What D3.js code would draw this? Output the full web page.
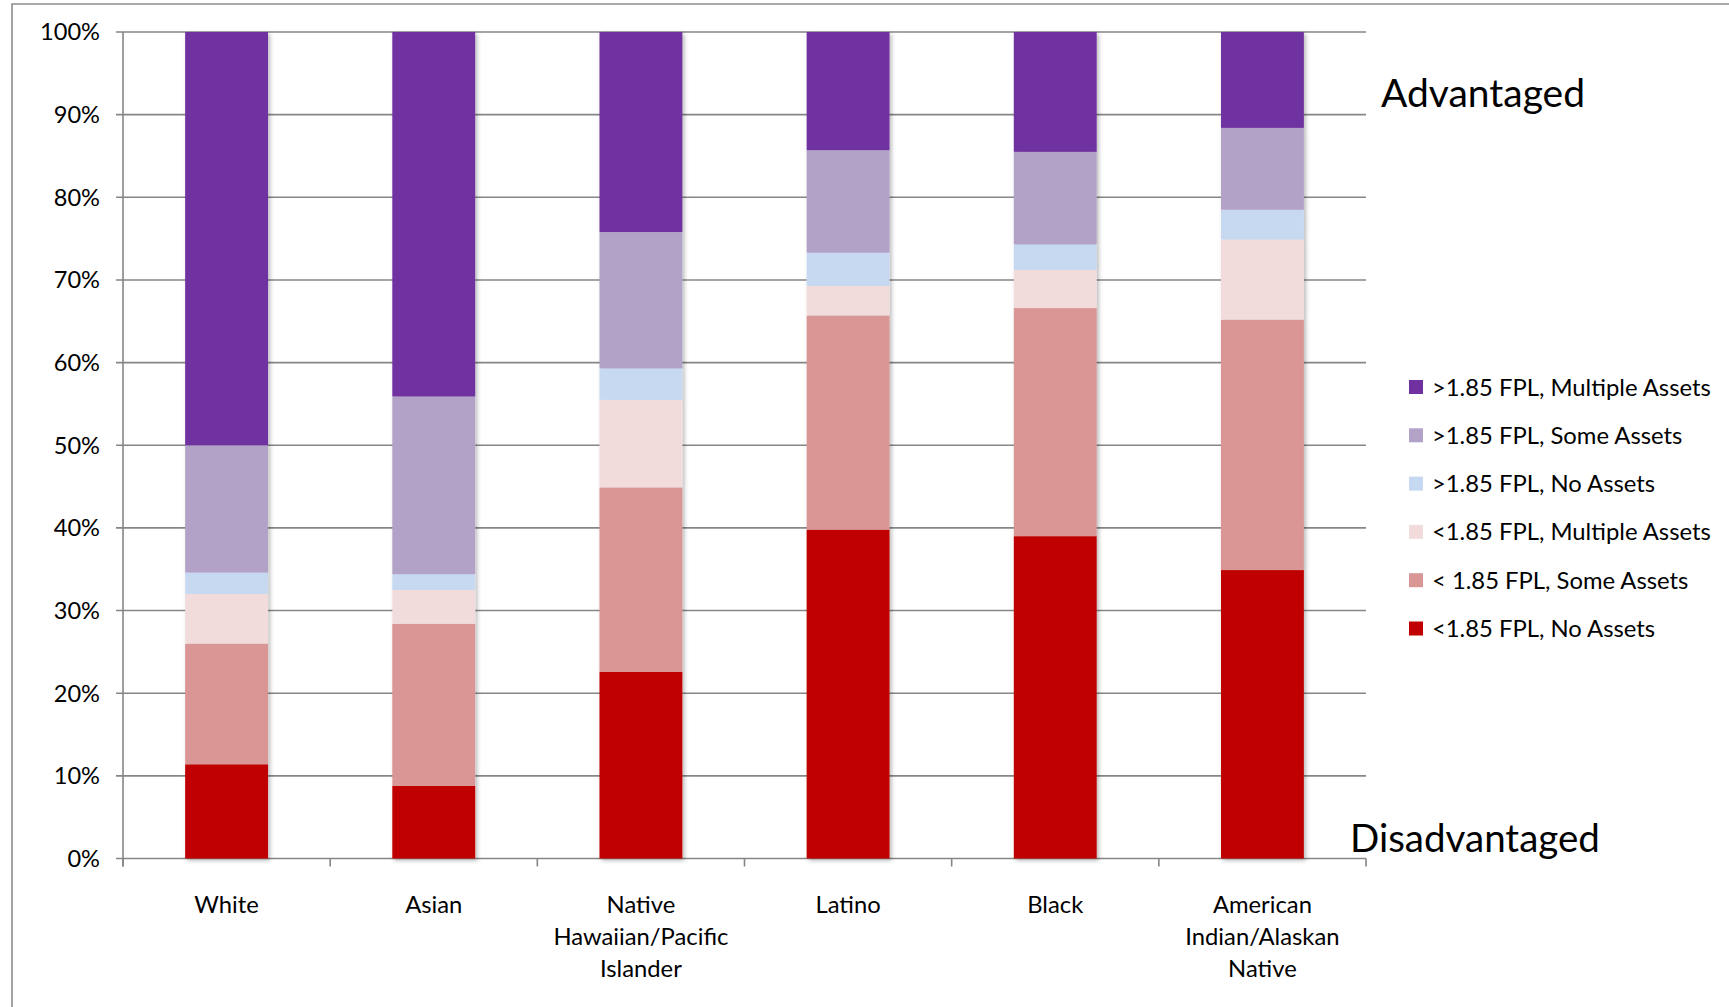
<!DOCTYPE html>
<html><head><meta charset="utf-8">
<script src="https://cdn.jsdelivr.net/npm/d3@7"></script>
<style>
body{margin:0;background:#fff;}
svg{display:block;}
text{font-family:Lato,"Open Sans",sans-serif;fill:#000;}
</style>
</head><body>
<svg id="c" width="1729" height="1007"></svg>
<script>
// ---- data ----
const categories = ["White","Asian","Native Hawaiian/Pacific Islander","Latino","Black","American Indian/Alaskan Native"];
const categoryLines = [["White"],["Asian"],["Native","Hawaiian/Pacific","Islander"],["Latino"],["Black"],["American","Indian/Alaskan","Native"]];
// stacked bottom -> top (percent)
const lowNoAssets      = [11.4,  8.8, 22.6, 39.8, 39.0, 34.9];
const lowSomeAssets    = [14.6, 19.6, 22.3, 25.9, 27.6, 30.3];
const lowMultAssets    = [ 6.0,  4.1, 10.6,  3.6,  4.6,  9.7];
const highNoAssets     = [ 2.6,  1.9,  3.8,  4.0,  3.1,  3.6];
const highSomeAssets   = [15.4, 21.5, 16.5, 12.4, 11.2,  9.9];
const highMultAssets   = [50.0, 44.1, 24.2, 14.3, 14.5, 11.6];
const seriesNames = ["<1.85 FPL, No Assets","< 1.85 FPL, Some Assets","<1.85 FPL, Multiple Assets",">1.85 FPL, No Assets",">1.85 FPL, Some Assets",">1.85 FPL, Multiple Assets"];
const seriesColors = ["#C00000","#D99694","#F2DCDB","#C6D9F1","#B3A2C7","#7030A0"];
const yTicks = [0,10,20,30,40,50,60,70,80,90,100];

const seriesValues = [lowNoAssets,lowSomeAssets,lowMultAssets,highNoAssets,highSomeAssets,highMultAssets];
const table = categories.map((c,i)=>{const r={cat:c}; seriesNames.forEach((s,k)=>r[s]=seriesValues[k][i]); return r;});

// ---- layout ----
const svg = d3.select("#c");
const X0=123, X1=1366, YT=32, YB=858.5;
const gridCol="#868686";

const x = d3.scaleBand().domain(categories).range([X0,X1]).paddingInner(0.6).paddingOuter(0.3);
const xOuter = d3.scaleBand().domain(categories).range([X0,X1]).padding(0);
const y = d3.scaleLinear().domain([0,100]).range([YB,YT]);

function fit(str,target){const t=svg.append("text").style("font-size","100px").text(str);const w=t.node().getComputedTextLength();t.remove();return 100*target/w;}

// frame
svg.append("path").attr("d","M12,1007 V4 H1729").attr("fill","none").attr("stroke","#8c8c8c").attr("stroke-width",1.6);

// defs shadow
const defs=svg.append("defs");
const f=defs.append("filter").attr("id","sh").attr("x","-20%").attr("y","-5%").attr("width","150%").attr("height","115%");
f.append("feDropShadow").attr("dx",2).attr("dy",2).attr("stdDeviation",2).attr("flood-color","#000").attr("flood-opacity",0.28);

// gridlines
svg.append("g").selectAll("line").data(yTicks).join("line")
  .attr("x1",116).attr("x2",X1).attr("y1",d=>y(d)).attr("y2",d=>y(d))
  .attr("stroke",gridCol).attr("stroke-width",1.6);

// y axis line
svg.append("line").attr("x1",X0).attr("x2",X0).attr("y1",YT).attr("y2",YB+8).attr("stroke",gridCol).attr("stroke-width",1.6);
// x ticks at band boundaries
const bounds = categories.map(c=>xOuter(c)).concat([X1]);
svg.append("g").selectAll("line").data(bounds).join("line")
  .attr("x1",d=>d).attr("x2",d=>d).attr("y1",YB).attr("y2",YB+8)
  .attr("stroke",gridCol).attr("stroke-width",1.6);

// y tick labels
const tickFs = fit("100%",60);
svg.append("g").selectAll("text").data(yTicks).join("text")
  .attr("x",100).attr("y",d=>y(d)).attr("dy","0.36em").attr("text-anchor","end")
  .style("font-size",tickFs+"px").text(d=>d+"%");

// bars
const stack = d3.stack().keys(seriesNames)(table);
const groups = svg.append("g").selectAll("g").data(categories).join("g").attr("filter","url(#sh)");
groups.each(function(c,i){
  const g=d3.select(this);
  stack.forEach((layer,k)=>{
    const d=layer[i];
    g.append("rect").attr("x",x(c)).attr("width",x.bandwidth())
      .attr("y",y(d[1])).attr("height",y(d[0])-y(d[1]))
      .attr("fill",seriesColors[k]);
  });
});

// x labels
const xFs = fit("Hawaiian/Pacific",175);
svg.append("g").selectAll("g").data(categories).join("g").each(function(c,i){
  d3.select(this).selectAll("text").data(categoryLines[i]).join("text")
    .attr("x",xOuter(c)+xOuter.bandwidth()/2).attr("y",(d,j)=>904+j*32).attr("dy","0.36em")
    .attr("text-anchor","middle").style("font-size",xFs+"px").text(d=>d);
});

// legend
const legFs = fit(">1.85 FPL, Multiple Assets",279);
const legOrder = seriesNames.map((s,k)=>k).reverse();
const leg = svg.append("g").selectAll("g").data(legOrder).join("g")
  .attr("transform",(k,j)=>`translate(1409,${387+j*48.3})`);
leg.append("rect").attr("x",0).attr("y",-7).attr("width",14).attr("height",14).attr("fill",k=>seriesColors[k]);
leg.append("text").attr("x",23).attr("y",0).attr("dy","0.36em").style("font-size",legFs+"px").text(k=>seriesNames[k]);

// annotations
const advFs = fit("Advantaged",204);
svg.append("text").attr("x",1381).attr("y",107).style("font-size",advFs+"px").text("Advantaged");
const disFs = fit("Disadvantaged",250);
svg.append("text").attr("x",1350).attr("y",851.5).style("font-size",disFs+"px").text("Disadvantaged");
</script>
</body></html>
